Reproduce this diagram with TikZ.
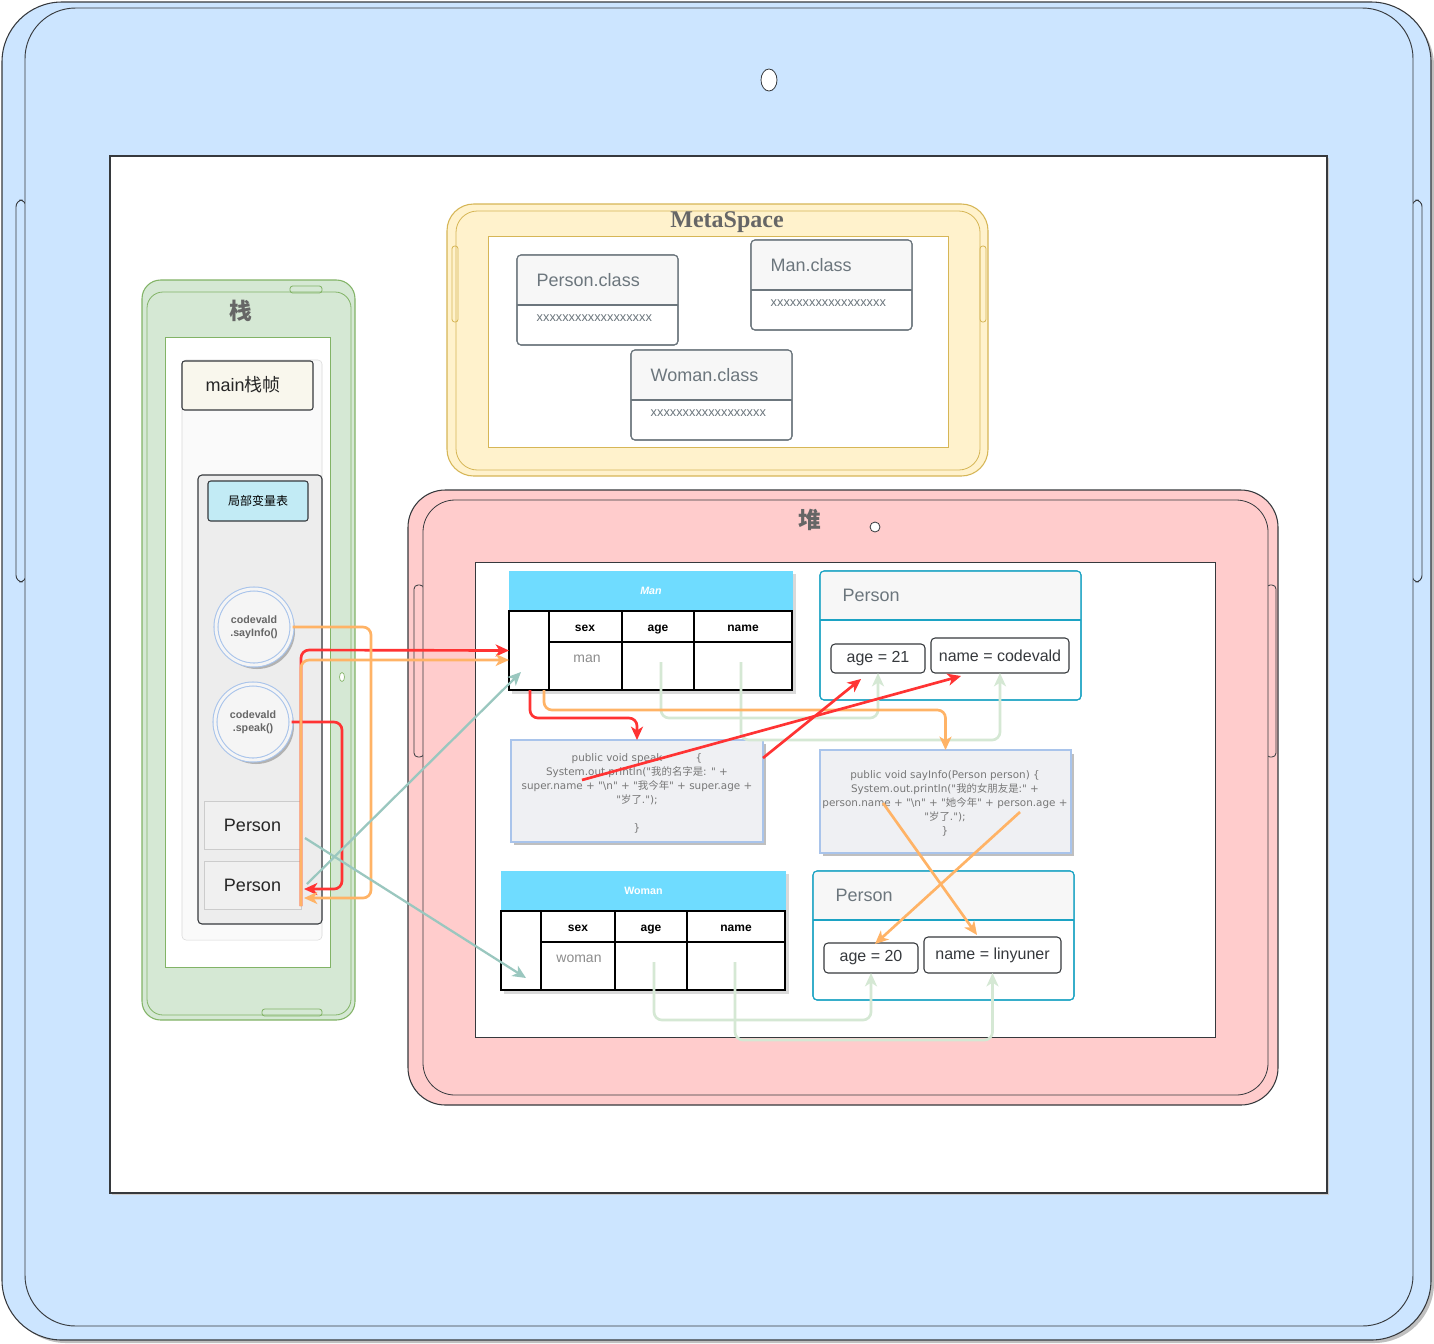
\documentclass[tikz,border=0pt]{standalone}
\usepackage{fontspec}
\setmainfont{Liberation Sans}
\newfontfamily\cjk{Noto Sans CJK SC}
\newfontfamily\serifb{Liberation Serif}
\newfontfamily\codefont[Ligatures=TeXOff]{DejaVu Sans}
\usetikzlibrary{fit,calc,arrows.meta}
\definecolor{tabblue}{HTML}{CCE5FF}
\definecolor{tabline}{HTML}{36393D}
\definecolor{stkfill}{HTML}{D5E8D4}
\definecolor{stkline}{HTML}{82B366}
\definecolor{metafill}{HTML}{FFF2CC}
\definecolor{metaline}{HTML}{D6B656}
\definecolor{heapfill}{HTML}{FFCCCC}
\definecolor{hdrblue}{HTML}{6FDCFF}
\definecolor{pline}{HTML}{1CA3C4}
\definecolor{cred}{HTML}{FF3333}
\definecolor{corange}{HTML}{FFB366}
\definecolor{cteal}{HTML}{9AC7BF}
\definecolor{cgreen}{HTML}{D5E8D4}
\definecolor{codefill}{HTML}{EFF0F3}
\definecolor{codeline}{HTML}{A9C4EB}
\definecolor{graytxt}{HTML}{777777}
\definecolor{titlegray}{HTML}{666666}
\definecolor{classtxt}{HTML}{6C767D}
\definecolor{hdrgray}{HTML}{F7F7F7}
\definecolor{framehdrfill}{HTML}{F9F7ED}
\definecolor{lvtfill}{HTML}{C2EBF5}
\tikzset{
  fitbox/.style={inner sep=0pt, outer sep=0pt},
  classbox/.style={fitbox, draw=classtxt, line width=0.8pt, rounded corners=3pt, fill=white},
  valbox/.style={fitbox, draw=tabline, line width=0.8pt, rounded corners=3pt, fill=white},
  valtxt/.style={font=\fontsize{12}{14}\selectfont, text=tabline},
  pbox/.style={fitbox, draw=pline, line width=0.8pt, rounded corners=3pt, fill=white},
  codebox/.style={fitbox, draw=codeline, fill=codefill, line width=0.8pt},
  codetxt/.style={font=\codefont\fontsize{7.8}{10.5}\selectfont, text=graytxt, align=center},
  tbl/.style={draw=black, line width=0.8pt},
  hdrtxt/.style={anchor=base, font=\bfseries\fontsize{9}{11}\selectfont},
  celltxt/.style={anchor=base, text=black!45, font=\fontsize{10.5}{12}\selectfont},
  conn/.style={line width=2pt, rounded corners=6pt, -{Stealth[length=10pt,width=9pt,inset=2.8pt]}},
  stackitem/.style={fitbox, draw=black!20, fill=black!6},
  stacktxt/.style={font=\fontsize{13.5}{16}\selectfont, text=black!85},
  callcirc/.style={circle, draw=codeline, fill=black!4, line width=0.8pt, minimum size=57pt, inner sep=0pt, font=\bfseries\fontsize{8}{9.5}\selectfont, text=titlegray, align=center, double=black!4, double distance=2.2pt}
}
\begin{document}
\begin{tikzpicture}[x=0.75pt,y=-0.75pt]
\useasboundingbox (0,0) rectangle (1434,1343);
% ---------- tablet ----------
\fill[black!25, rounded corners=45pt] (6,6) rectangle (1434,1343);
\path[fill=tabblue, draw=tabline, line width=0.8pt, rounded corners=45pt] (2,2) rectangle (1431,1340);
\draw[tabline, line width=0.7pt, rounded corners=5pt] (16,200) rectangle (26,582);
\draw[tabline, line width=0.7pt, rounded corners=5pt] (1412,200) rectangle (1422,582);
\path[fill=tabblue, draw=tabline, line width=0.7pt, rounded corners=38pt] (25,8) rectangle (1413,1326);
\draw[fill=white, draw=tabline, line width=0.6pt] (769,80) ellipse [x radius=8, y radius=11];
\fill[black!20] (112,158) rectangle (1329,1195);
\node[fitbox, draw=tabline, fill=white, line width=0.8pt, fit={(110,156) (1327,1193)}] (screen) {};
% ---------- stack ----------
\path[fill=stkfill, draw=stkline, line width=0.8pt, rounded corners=14pt] (142,280) rectangle (355,1020);
\draw[stkline, line width=0.6pt, rounded corners=2pt] (290,286) rectangle (322,293);
\draw[stkline, line width=0.6pt, rounded corners=2pt] (262,1009) rectangle (322,1016);
\path[draw=stkline, line width=0.6pt, rounded corners=12pt] (147,292) rectangle (351,1015);
\node[fitbox, draw=stkline, fill=white, line width=0.7pt, fit={(165,337) (330,967)}] (stkscreen) {};
\draw[stkline, fill=white, line width=0.5pt] (342,677) ellipse [x radius=2.5, y radius=4.5];
\node[font=\cjk\bfseries\fontsize{17}{20}\selectfont, text=titlegray] (stktitle) at (241,311) {栈};
\node[fitbox, draw=black!15, fill=black!2, rounded corners=3pt, fit={(182,360) (322,940)}] (frame) {};
\node[fitbox, draw=tabline, fill=framehdrfill, line width=0.8pt, rounded corners=2pt, fit={(182,361) (313,410)}] (framehdr) {};
\node[anchor=west, font=\fontsize{13.5}{16}\selectfont, text=black!85] at (201,385) {main{\cjk 栈帧}};
\node[fitbox, draw=tabline, fill=black!7, line width=0.8pt, rounded corners=3pt, fit={(198,475) (322,924)}] (lvt) {};
\node[fitbox, draw=tabline, fill=lvtfill, line width=0.8pt, rounded corners=2pt, fit={(208,481) (308,521)}] (lvthdr) {};
\node[font=\cjk\fontsize{9}{11}\selectfont] at (lvthdr.center) {局部变量表};
\fill[black!30] (257,631) circle [radius=38];
\node[callcirc] (ci1) at (254,627) {codevald\\.sayInfo()};
\fill[black!30] (256,726) circle [radius=38];
\node[callcirc] (ci2) at (253,722) {codevald\\.speak()};
\node[stackitem, fit={(204,801) (301,849)}] (per1) {};
\node[stacktxt] at (per1.center) {Person};
\node[stackitem, fit={(204,861) (301,909)}] (per2) {};
\node[stacktxt] at (per2.center) {Person};
% ---------- metaspace ----------
\path[fill=metafill, draw=metaline, line width=0.8pt, rounded corners=20pt] (447,204) rectangle (988,476);
\draw[metaline, line width=0.6pt, rounded corners=2pt] (452,246) rectangle (458,322);
\draw[metaline, line width=0.6pt, rounded corners=2pt] (980,246) rectangle (986,322);
\path[draw=metaline, line width=0.6pt, rounded corners=16pt] (456,211) rectangle (980,470);
\node[fitbox, draw=metaline, fill=white, line width=0.7pt, fit={(488,236) (948,447)}] (metascreen) {};
\node[font=\serifb\bfseries\fontsize{18}{20}\selectfont, text=titlegray] (metatitle) at (727,222) {MetaSpace};
% class boxes
\node[classbox, fit={(517,255) (678,345)}] (pcls) {};
\fill[hdrgray] (517.5,305) {[rounded corners=3pt] -- (517.5,255.5) -- (677.5,255.5)} -- (677.5,305) -- cycle;
\draw[classtxt, line width=0.8pt, rounded corners=3pt] (517,255) rectangle (678,345);
\draw[classtxt, line width=0.8pt] (517,305) -- (678,305);
\node[anchor=west, font=\fontsize{13.5}{16}\selectfont, text=classtxt] at (532,280) {Person.class};
\node[anchor=west, font=\fontsize{9.6}{11}\selectfont, text=classtxt] at (532,318) {xxxxxxxxxxxxxxxxxx};
\node[classbox, fit={(751,240) (912,330)}] (mcls) {};
\fill[hdrgray] (751.5,290) {[rounded corners=3pt] -- (751.5,240.5) -- (911.5,240.5)} -- (911.5,290) -- cycle;
\draw[classtxt, line width=0.8pt, rounded corners=3pt] (751,240) rectangle (912,330);
\draw[classtxt, line width=0.8pt] (751,290) -- (912,290);
\node[anchor=west, font=\fontsize{13.5}{16}\selectfont, text=classtxt] at (766,265) {Man.class};
\node[anchor=west, font=\fontsize{9.6}{11}\selectfont, text=classtxt] at (766,303) {xxxxxxxxxxxxxxxxxx};
\node[classbox, fit={(631,350) (792,440)}] (wcls) {};
\fill[hdrgray] (631.5,400) {[rounded corners=3pt] -- (631.5,350.5) -- (791.5,350.5)} -- (791.5,400) -- cycle;
\draw[classtxt, line width=0.8pt, rounded corners=3pt] (631,350) rectangle (792,440);
\draw[classtxt, line width=0.8pt] (631,400) -- (792,400);
\node[anchor=west, font=\fontsize{13.5}{16}\selectfont, text=classtxt] at (646,375) {Woman.class};
\node[anchor=west, font=\fontsize{9.6}{11}\selectfont, text=classtxt] at (646,413) {xxxxxxxxxxxxxxxxxx};
% ---------- heap ----------
\path[fill=heapfill, draw=tabline, line width=0.8pt, rounded corners=28pt] (408,490) rectangle (1278,1105);
\draw[tabline, line width=0.6pt, rounded corners=3pt] (414,585) rectangle (424,757);
\draw[tabline, line width=0.6pt, rounded corners=3pt] (1266,585) rectangle (1276,757);
\path[fill=heapfill, draw=tabline, line width=0.6pt, rounded corners=24pt] (423,500) rectangle (1268,1095);
\node[fitbox, draw=tabline, fill=white, line width=0.7pt, fit={(475,562) (1215,1037)}] (heapscreen) {};
\node[font=\cjk\bfseries\fontsize{17}{20}\selectfont, text=titlegray] (heaptitle) at (810,520) {堆};
\draw[tabline, fill=white, line width=0.6pt] (875,527) circle [radius=5];
% Man table
\fill[black!15] (512,574) rectangle (796,694);
\node[fitbox, fill=hdrblue, fit={(509,571) (793,611)}] (manhdr) {};
\node[font=\bfseries\itshape\fontsize{8}{10}\selectfont, text=white] at (manhdr.center) {Man};
\node[fitbox, tbl, fill=white, fit={(509,611) (792,690)}] (mant) {};
\draw[tbl] (549,611) -- (549,690) (622,611) -- (622,690) (694,611) -- (694,690) (549,642) -- (792,642);
\node[hdrtxt] at (585,631) {sex};
\node[hdrtxt] at (658,631) {age};
\node[hdrtxt] at (743,631) {name};
\node[celltxt] (msex) at (587,662) {man};
\node[fitbox, fit={(622,642) (694,690)}] (mage) {};
\node[fitbox, fit={(694,642) (792,690)}] (mname) {};
% Woman table
\fill[black!15] (504,874) rectangle (789,994);
\node[fitbox, fill=hdrblue, fit={(501,871) (786,911)}] (womhdr) {};
\node[font=\bfseries\fontsize{8}{10}\selectfont, text=white] at (womhdr.center) {Woman};
\node[fitbox, tbl, fill=white, fit={(501,911) (785,990)}] (womt) {};
\draw[tbl] (541,911) -- (541,990) (615,911) -- (615,990) (687,911) -- (687,990) (541,942) -- (785,942);
\node[hdrtxt] at (578,931) {sex};
\node[hdrtxt] at (651,931) {age};
\node[hdrtxt] at (736,931) {name};
\node[celltxt] (wsex) at (579,962) {woman};
\node[fitbox, fit={(615,942) (687,990)}] (wage) {};
\node[fitbox, fit={(687,942) (785,990)}] (wname) {};
% Person objects
\node[pbox, fit={(820,571) (1081,700)}] (pman) {};
\fill[hdrgray] (820.5,620) {[rounded corners=3pt] -- (820.5,571.5) -- (1080.5,571.5)} -- (1080.5,620) -- cycle;
\draw[pline, line width=0.8pt, rounded corners=3pt] (820,571) rectangle (1081,700);
\draw[pline, line width=0.8pt] (820,620) -- (1081,620);
\node[anchor=west, font=\fontsize{13.5}{16}\selectfont, text=classtxt] at (838,595) {Person};
\node[valbox, fit={(831,644) (925,673)}] (age21) {};
\node[valtxt] at (age21.center) {age = 21};
\node[valbox, fit={(931,638) (1069,673)}] (namecod) {};
\node[valtxt] at (namecod.center) {name = codevald};
\node[pbox, fit={(813,871) (1074,1000)}] (pwom) {};
\fill[hdrgray] (813.5,920) {[rounded corners=3pt] -- (813.5,871.5) -- (1073.5,871.5)} -- (1073.5,920) -- cycle;
\draw[pline, line width=0.8pt, rounded corners=3pt] (813,871) rectangle (1074,1000);
\draw[pline, line width=0.8pt] (813,920) -- (1074,920);
\node[anchor=west, font=\fontsize{13.5}{16}\selectfont, text=classtxt] at (831,895) {Person};
\node[valbox, fit={(824,943) (918,973)}] (age20) {};
\node[valtxt] at (age20.center) {age = 20};
\node[valbox, fit={(924,937) (1061,973)}] (namelin) {};
\node[valtxt] at (namelin.center) {name = linyuner};
% code boxes
\fill[black!25] (514,744) rectangle (766,845);
\node[codebox, fit={(511,740) (763,842)}] (speak) {};
\node[codetxt] at (637,793) {public void speak\hspace{3.2em}\{\\System.out.println("{\cjk 我的名字是}: " +\\super.name + "\textbackslash n" + "{\cjk 我今年}" + super.age +\\"{\cjk 岁了}.");\\\mbox{}\\\}};
\fill[black!25] (823,754) rectangle (1074,856);
\node[codebox, fit={(820,750) (1071,853)}] (sayinfo) {};
\node[codetxt, anchor=north] at (945,766) {public void sayInfo(Person person) \{\\System.out.println("{\cjk 我的女朋友是}:" +\\person.name + "\textbackslash n" + "{\cjk 她今年}" + person.age +\\"{\cjk 岁了}.");\\\}};
% ---------- connectors ----------
\coordinate (p2top) at (301,906);
\coordinate (p2red) at (304,889);
\coordinate (p2org) at (304,898);
\coordinate (mantin) at (509,660);
\draw[conn, cred] (ci2.east) -- (342,722) -- (342,889) -- (p2red);
\draw[conn, cred] (p2top) -- (301,650) -- (mant.west);
\draw[conn, corange] (ci1.east) -- (371,627) -- (371,898) -- (p2org);
\draw[conn, corange] (p2top) -- (301,660) -- (mantin);
\coordinate (p2tl) at (307,884);
\coordinate (mantt) at (521,672);
\coordinate (p1tl) at (305,838);
\coordinate (womtt) at (526,978);
\draw[conn, cteal, line width=1.7pt] (p2tl) -- (mantt);
\draw[conn, cteal, line width=1.7pt] (p1tl) -- (womtt);
% green field links
\draw[conn, cgreen] (661,662) -- (661,718) -| (age21.south);
\draw[conn, cgreen] (741,662) -- (741,740) -| (namecod.south);
\draw[conn, cgreen] (654,962) -- (654,1020) -| (age20.south);
\draw[conn, cgreen] (735,962) -- (735,1040) -| (namelin.south);
% method links
\draw[conn, cred] (530,690) -- (530,718) -| (speak.north);
\draw[conn, corange] (544,690) -- (544,710) -| (sayinfo.north);
\coordinate (spk1) at (582,780);
\coordinate (spk2) at (763,758);
\coordinate (codin) at (961,676);
\coordinate (a21in) at (861,679);
\draw[conn, cred] (spk1) -- (codin);
\draw[conn, cred] (spk2) -- (a21in);
\coordinate (say1) at (883,803);
\coordinate (say2) at (1020,812);
\coordinate (linin) at (977,935);
\coordinate (a20in) at (875,944);
\draw[conn, corange] (say1) -- (linin);
\draw[conn, corange] (say2) -- (a20in);
\end{tikzpicture}
\end{document}
